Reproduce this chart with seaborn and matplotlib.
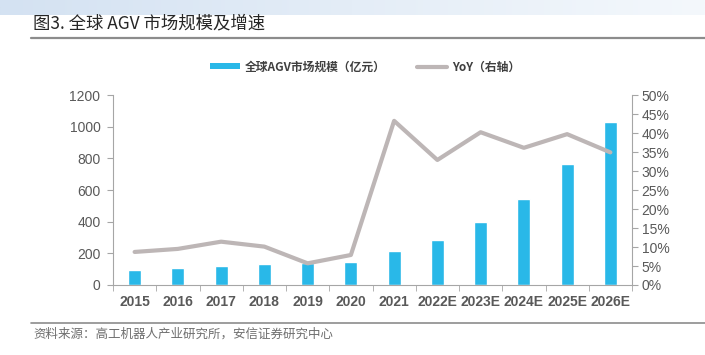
import numpy as np
import matplotlib
matplotlib.use('Agg')
import matplotlib.pyplot as plt
from matplotlib.lines import Line2D
from matplotlib.patches import Patch
import seaborn as sns
import pandas as pd

# data
years = ['2015', '2016', '2017', '2018', '2019', '2020', '2021',
         '2022E', '2023E', '2024E', '2025E', '2026E']
market_size = [95, 105, 118, 131, 139, 147, 214, 284, 398, 545, 764, 1030]
yoy = [8.7, 9.5, 11.4, 10.1, 5.7, 7.9, 43.2, 32.9, 40.2, 36.1, 39.7, 34.9]

bar_color = '#29B8E8'
line_color = '#BDB6B6'
text_color = '#595959'
axis_color = '#A6A6A6'
cjk = ['Noto Sans CJK SC', 'DejaVu Sans']

sns.set_style('white')
plt.rcParams['font.family'] = ['Liberation Sans', 'Noto Sans CJK SC', 'DejaVu Sans']

df = pd.DataFrame({'year': years, 'size': market_size, 'yoy': yoy})

fig = plt.figure(figsize=(7.05, 3.55), dpi=100)

# light blue banner across the top
banner = fig.add_axes([0, 1 - 15 / 355, 1, 15 / 355])
grad = np.linspace(0, 1, 256).reshape(1, -1)
cmap = matplotlib.colors.LinearSegmentedColormap.from_list('b', ['#D4E2F2', '#F4F8FC'])
banner.imshow(grad, aspect='auto', cmap=cmap)
banner.axis('off')

fig.text(33 / 705, 1 - 23 / 355, '图3. 全球 AGV 市场规模及增速', fontsize=12.5,
         fontweight='medium', color='#262626', va='center', ha='left', family=cjk)
fig.add_artist(Line2D([31 / 705, 1], [1 - 38 / 355] * 2, color='#8C8C8C', lw=1.6))
fig.add_artist(Line2D([31 / 705, 1], [1 - 323 / 355] * 2, color='#8C8C8C', lw=1.2))
fig.text(33 / 705, 1 - 334 / 355, '资料来源：高工机器人产业研究所，安信证券研究中心', fontsize=9,
         color='#6E6E6E', va='center', ha='left', family=cjk)

ax = fig.add_axes([113 / 705, 1 - 285 / 355, (632 - 113) / 705, 190 / 355])
sns.barplot(data=df, x='year', y='size', color=bar_color, width=0.3,
            saturation=1, ax=ax)
ax.set_ylim(0, 1200)
ax.set_yticks(range(0, 1201, 200))
ax.set_xlim(-0.5, len(years) - 0.5)
ax.set_xlabel('')
ax.set_ylabel('')

ax2 = ax.twinx()
sns.lineplot(x=list(range(len(years))), y=yoy, color=line_color, lw=3,
             sort=False, ax=ax2)
ax2.set_ylim(0, 50)
ax2.set_yticks(range(0, 51, 5))
ax2.set_yticklabels([f'{v}%' for v in range(0, 51, 5)])
ax2.set_xlim(-0.5, len(years) - 0.5)

for a in (ax, ax2):
    a.spines['top'].set_visible(False)
    for side in ('left', 'right', 'bottom'):
        a.spines[side].set_color(axis_color)
        a.spines[side].set_linewidth(0.8)
    a.grid(False)

ax.spines['right'].set_visible(False)
ax2.spines['left'].set_visible(False)
ax2.spines['bottom'].set_visible(False)

ax.tick_params(axis='y', direction='out', length=4, color=axis_color,
               labelsize=10, labelcolor=text_color, pad=5, left=True)
ax2.tick_params(axis='y', direction='out', length=4, color=axis_color,
                labelsize=10, labelcolor=text_color, pad=3, right=True)
ax.set_xticks(range(len(years)))
ax.set_xticklabels(years)
ax.tick_params(axis='x', length=0, labelsize=10, labelcolor=text_color, pad=7)
ax.set_xticks(np.arange(-0.5, len(years), 1), minor=True)
ax.tick_params(axis='x', which='minor', direction='out', length=4,
               color=axis_color, bottom=True)
for lbl in ax.get_xticklabels():
    lbl.set_fontweight('bold')

handles = [Patch(facecolor=bar_color, edgecolor='none'),
           Line2D([0], [0], color=line_color, lw=3)]
labels = ['全球AGV市场规模（亿元）', 'YoY（右轴）']
fig.legend(handles, labels, loc='center', bbox_to_anchor=(365 / 705, 1 - 67 / 355),
           ncol=2, frameon=False, handlelength=2.6, handleheight=0.45,
           columnspacing=2.6, handletextpad=0.4,
           prop={'family': cjk, 'size': 8.5, 'weight': 'bold'},
           labelcolor='#404040')

fig.savefig('out.png', dpi=100)
